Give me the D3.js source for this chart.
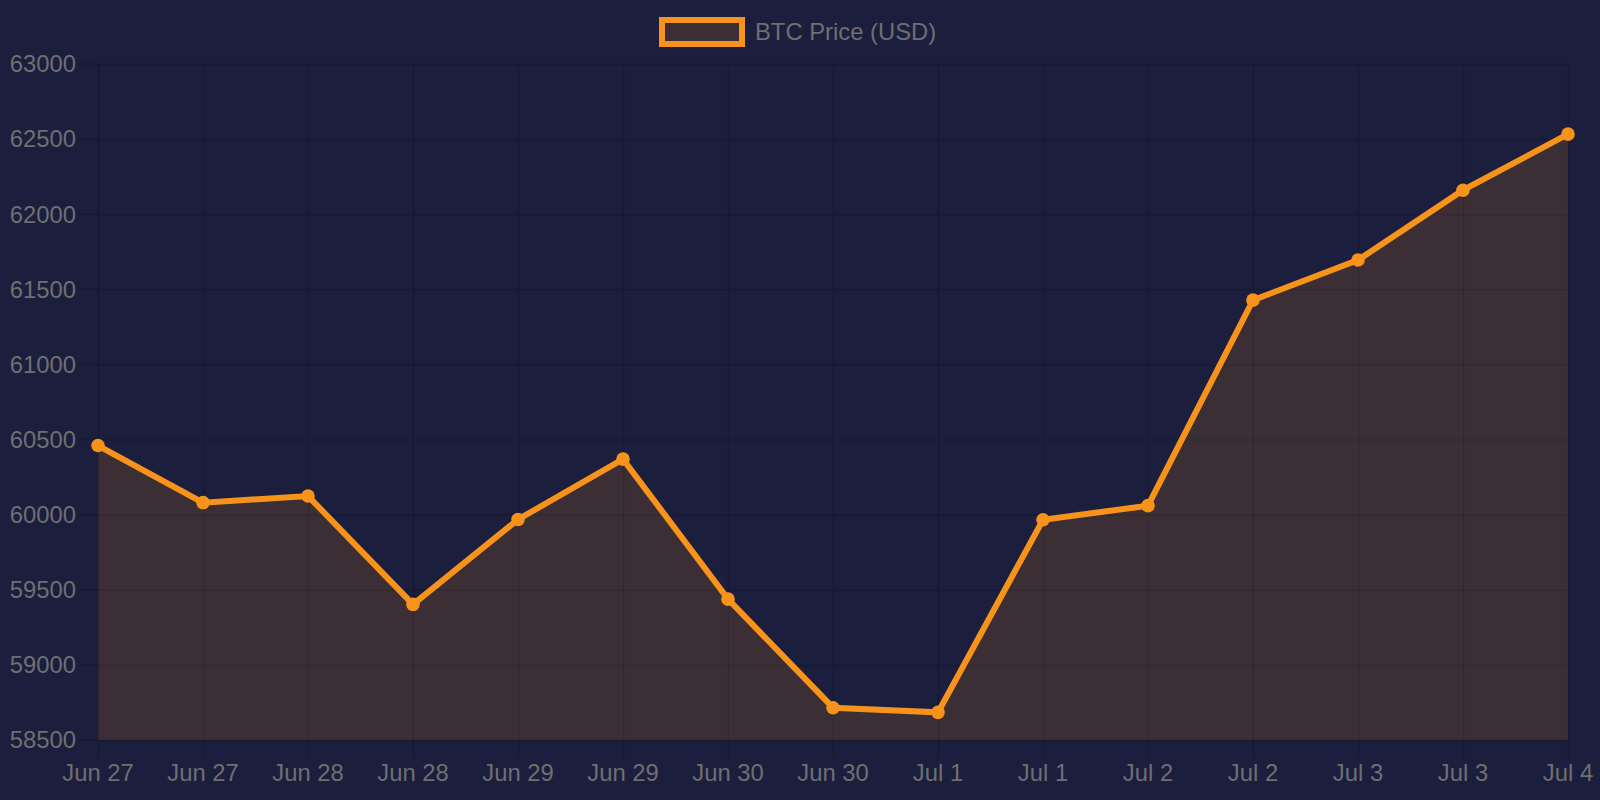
<!DOCTYPE html>
<html>
<head>
<meta charset="utf-8">
<script src="https://cdn.jsdelivr.net/npm/d3@7"></script>
<style>
    html, body { margin: 0; padding: 0; background: #1b1e3c; }
    #chart text { font-family: "Liberation Sans", Arial, Helvetica, sans-serif; }
</style>
</head>
<body>
<div id="chart"></div>
<script>
const dayLabels = ["Jun 27", "Jun 27", "Jun 28", "Jun 28", "Jun 29", "Jun 29", "Jun 30", "Jun 30",
    "Jul 1", "Jul 1", "Jul 2", "Jul 2", "Jul 3", "Jul 3", "Jul 4"];
const btcPrice = [60460, 60080, 60124, 59403, 59968, 60370, 59438, 58715,
    58684, 59966, 60060, 61428, 61695, 62160, 62533];
const priceTicks = [58500, 59000, 59500, 60000, 60500, 61000, 61500, 62000, 62500, 63000];
const seriesName = "BTC Price (USD)";

function init() {
    const w = 1600;
    const h = 800;
    const margin = { top: 64, right: 32, bottom: 60, left: 98 };
    const orange = "#f7931a";
    const areaFill = "#3c2e35";
    const textColor = "#6f6f72";
    const fontSize = 23.8;
    const gridOpacity = 0.11;

    var svg = d3.select("#chart")
        .append("svg")
        .attr("width", w)
        .attr("height", h);

    svg.append("rect")
        .attr("width", w)
        .attr("height", h)
        .attr("fill", "#1b1e3c");

    var x = d3.scalePoint()
        .domain(d3.range(btcPrice.length))
        .range([margin.left, w - margin.right]);

    var y = d3.scaleLinear()
        .domain([priceTicks[0], priceTicks[priceTicks.length - 1]])
        .range([h - margin.bottom, margin.top]);

    // area first, grid lines drawn faintly on top
    var area = d3.area()
        .x((d, i) => x(i))
        .y0(y(priceTicks[0]))
        .y1(d => y(d));

    svg.append("path")
        .datum(btcPrice)
        .attr("d", area)
        .attr("fill", areaFill);

    // grid + ticks
    svg.append("g")
        .attr("transform", "translate(" + margin.left + ",0)")
        .call(d3.axisLeft(y)
            .tickValues(priceTicks)
            .tickSize(-(w - margin.left - margin.right))
            .tickSizeOuter(0)
            .tickFormat(""))
        .call(g => g.select(".domain").remove())
        .call(g => g.selectAll(".tick line")
            .attr("stroke", "#000")
            .attr("stroke-opacity", gridOpacity)
            .attr("stroke-width", 1.5));

    svg.append("g")
        .attr("transform", "translate(0," + margin.top + ")")
        .call(d3.axisTop(x)
            .tickSize(-(h - margin.top - margin.bottom + 19))
            .tickSizeOuter(0)
            .tickFormat(""))
        .call(g => g.select(".domain").remove())
        .call(g => g.selectAll(".tick line")
            .attr("stroke", "#000")
            .attr("stroke-opacity", gridOpacity)
            .attr("stroke-width", 1.5));

    // little left ticks for y labels
    svg.append("g")
        .selectAll("line")
        .data(priceTicks)
        .enter()
        .append("line")
        .attr("x1", margin.left - 20)
        .attr("x2", margin.left)
        .attr("y1", d => y(d))
        .attr("y2", d => y(d))
        .attr("stroke", "#000")
        .attr("stroke-opacity", gridOpacity)
        .attr("stroke-width", 1.5);

    // y labels
    svg.append("g")
        .selectAll("text")
        .data(priceTicks)
        .enter()
        .append("text")
        .attr("x", margin.left - 22)
        .attr("y", d => y(d))
        .attr("dy", "0.35em")
        .attr("text-anchor", "end")
        .attr("fill", textColor)
        .attr("font-size", fontSize)
        .text(d => d);

    // x labels
    svg.append("g")
        .selectAll("text")
        .data(dayLabels)
        .enter()
        .append("text")
        .attr("x", (d, i) => x(i))
        .attr("y", 781)
        .attr("text-anchor", "middle")
        .attr("fill", textColor)
        .attr("font-size", fontSize)
        .text(d => d);

    // line + points
    var line = d3.line()
        .x((d, i) => x(i))
        .y(d => y(d));

    svg.append("path")
        .datum(btcPrice)
        .attr("d", line)
        .attr("fill", "none")
        .attr("stroke", orange)
        .attr("stroke-width", 6)
        .attr("stroke-linejoin", "miter");

    svg.append("g")
        .selectAll("circle")
        .data(btcPrice)
        .enter()
        .append("circle")
        .attr("cx", (d, i) => x(i))
        .attr("cy", d => y(d))
        .attr("r", 6.8)
        .attr("fill", orange);

    // Legend
    const legend = svg.append("g")
        .attr("class", "legend");

    legend.append("rect")
        .attr("x", 662)
        .attr("y", 20)
        .attr("width", 80)
        .attr("height", 24)
        .attr("fill", areaFill)
        .attr("stroke", orange)
        .attr("stroke-width", 6);

    legend.append("text")
        .attr("x", 755)
        .attr("y", 32)
        .attr("dy", "0.35em")
        .attr("fill", textColor)
        .attr("font-size", fontSize)
        .text(seriesName);
}

window.onload = init;
</script>
</body>
</html>
